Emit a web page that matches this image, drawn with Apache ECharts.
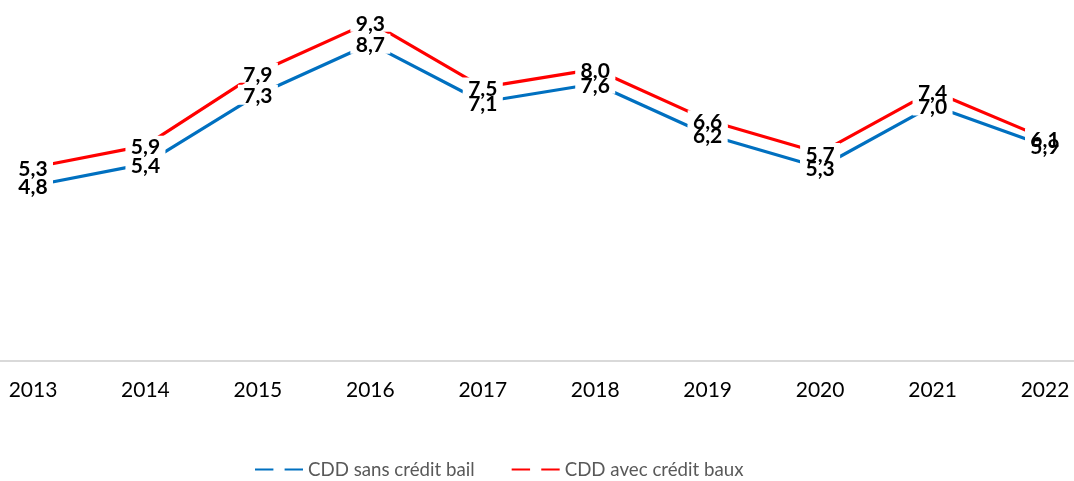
<!DOCTYPE html>
<html>
<head>
<meta charset="utf-8">
<script src="https://cdn.jsdelivr.net/npm/echarts@6/dist/echarts.min.js"></script>
<style>
html,body{margin:0;padding:0;background:#fff;}
#c{width:1074px;height:481px;}
</style>
</head>
<body>
<div id="c"></div>
<script>
var years = ['2013','2014','2015','2016','2017','2018','2019','2020','2021','2022'];
var sansCredit = [4.8, 5.4, 7.3, 8.7, 7.1, 7.6, 6.2, 5.3, 7.0, 5.9];
var avecCredit = [5.3, 5.9, 7.9, 9.3, 7.5, 8.0, 6.6, 5.7, 7.4, 6.1];
var seriesNames = ['CDD sans crédit bail', 'CDD avec crédit baux'];

var chart = echarts.init(document.getElementById('c'), null, {renderer: 'canvas'});

function fmt(p) { return p.value.toFixed(1).replace('.', ','); }

function mkSeries(name, data, color) {
  return {
    name: name,
    type: 'line',
    data: data,
    xAxisIndex: 0,
    yAxisIndex: 0,
    symbol: 'rect',
    symbolSize: [40, 20],
    showSymbol: true,
    itemStyle: {color: '#ffffff', borderWidth: 0},
    lineStyle: {color: color, width: 3.2},
    label: {
      show: true,
      position: 'inside',
      offset: [0, 2],
      formatter: fmt,
      fontFamily: 'Lato',
      fontWeight: 'bold',
      fontSize: 21,
      color: '#000000'
    },
    emphasis: {disabled: true},
    animation: false
  };
}

chart.setOption({
  animation: false,
  grid: [
    {left: 33, right: 29, top: 0, bottom: 120.5},
    {left: 0, right: 0, top: 0, bottom: 120.5}
  ],
  xAxis: [
    {
      type: 'category',
      gridIndex: 0,
      data: years,
      boundaryGap: false,
      axisLine: {show: false},
      axisTick: {show: false},
      axisLabel: {
        fontFamily: 'Lato',
        fontSize: 21,
        color: '#000000',
        margin: 19
      }
    },
    {
      type: 'value',
      gridIndex: 1,
      min: 0, max: 1,
      axisLine: {show: true, lineStyle: {color: '#d9d9d9', width: 2}},
      axisTick: {show: false},
      axisLabel: {show: false},
      splitLine: {show: false}
    }
  ],
  yAxis: [
    {type: 'value', gridIndex: 0, min: 0, max: 9.9, show: false, splitLine: {show: false}},
    {type: 'value', gridIndex: 1, min: 0, max: 1, show: false, splitLine: {show: false}}
  ],
  legend: {
    left: 254,
    top: 460,
    padding: 0,
    itemWidth: 48,
    itemHeight: 14,
    itemGap: 36,
    textStyle: {fontFamily: 'Lato', fontSize: 18.7, color: '#595959'},
    data: seriesNames
  },
  series: [
    mkSeries(seriesNames[0], sansCredit, '#0070C0'),
    mkSeries(seriesNames[1], avecCredit, '#FF0000')
  ]
});
</script>
</body>
</html>
